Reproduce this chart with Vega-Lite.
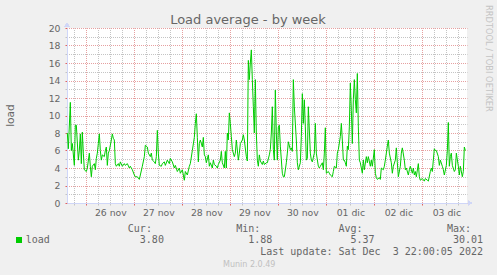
{
  "$schema": "https://vega.github.io/schema/vega-lite/v6.json",
  "width": 400,
  "height": 175,
  "autosize": "none",
  "padding": {"left": 67, "top": 28, "right": 30, "bottom": 72},
  "background": "#F0F0F0",
  "title": {"text": "RRDTOOL / TOBI OETIKER", "orient": "right", "anchor": "start", "frame": "group", "offset": -3, "dx": -23, "baseline": "middle", "font": "DejaVu Sans", "fontSize": 8.3, "fontWeight": "normal", "color": "#C4C4C4"},
  "config": {"view": {"fill": "#FFFFFF", "stroke": null}},
  "data": {"values": [
    {"t":"2022-11-25T14:30","v":8.0},{"t":"2022-11-25T15:00","v":6.2},{"t":"2022-11-25T16:00","v":11.5},{"t":"2022-11-25T16:30","v":6.0},{"t":"2022-11-25T17:00","v":6.8},{"t":"2022-11-25T18:00","v":4.3},{"t":"2022-11-25T18:30","v":8.9},{"t":"2022-11-25T19:00","v":8.9},{"t":"2022-11-25T20:00","v":4.9},{"t":"2022-11-25T20:30","v":6.0},{"t":"2022-11-25T21:00","v":7.9},{"t":"2022-11-25T21:30","v":4.5},{"t":"2022-11-25T22:00","v":8.1},{"t":"2022-11-25T22:30","v":5.7},{"t":"2022-11-25T23:00","v":3.8},
    {"t":"2022-11-26T00:00","v":3.6},{"t":"2022-11-26T00:30","v":4.0},{"t":"2022-11-26T01:30","v":5.7},{"t":"2022-11-26T02:00","v":4.2},{"t":"2022-11-26T02:30","v":3.0},{"t":"2022-11-26T03:00","v":4.2},{"t":"2022-11-26T04:00","v":4.5},{"t":"2022-11-26T04:30","v":3.8},{"t":"2022-11-26T05:00","v":5.1},{"t":"2022-11-26T05:30","v":5.7},{"t":"2022-11-26T06:00","v":6.8},{"t":"2022-11-26T06:30","v":7.9},{"t":"2022-11-26T07:00","v":6.0},{"t":"2022-11-26T07:30","v":4.9},{"t":"2022-11-26T08:00","v":5.5},{"t":"2022-11-26T09:00","v":5.3},{"t":"2022-11-26T09:30","v":6.0},{"t":"2022-11-26T10:00","v":6.4},{"t":"2022-11-26T10:30","v":4.3},{"t":"2022-11-26T11:00","v":5.7},{"t":"2022-11-26T11:30","v":6.0},{"t":"2022-11-26T12:30","v":7.2},{"t":"2022-11-26T13:00","v":7.9},{"t":"2022-11-26T13:30","v":7.4},{"t":"2022-11-26T14:00","v":7.2},{"t":"2022-11-26T14:30","v":4.5},{"t":"2022-11-26T15:00","v":4.2},{"t":"2022-11-26T16:00","v":4.5},{"t":"2022-11-26T16:30","v":4.2},{"t":"2022-11-26T17:00","v":4.7},{"t":"2022-11-26T18:00","v":4.2},{"t":"2022-11-26T19:00","v":4.5},{"t":"2022-11-26T19:30","v":4.3},{"t":"2022-11-26T20:30","v":4.5},{"t":"2022-11-26T21:30","v":4.0},{"t":"2022-11-26T22:00","v":4.2},{"t":"2022-11-26T23:00","v":3.8},
    {"t":"2022-11-27T00:00","v":3.2},{"t":"2022-11-27T00:30","v":3.0},{"t":"2022-11-27T01:30","v":3.0},{"t":"2022-11-27T02:30","v":2.7},{"t":"2022-11-27T03:00","v":3.2},{"t":"2022-11-27T04:00","v":4.2},{"t":"2022-11-27T05:00","v":5.3},{"t":"2022-11-27T05:30","v":6.6},{"t":"2022-11-27T06:30","v":6.4},{"t":"2022-11-27T07:00","v":5.7},{"t":"2022-11-27T08:00","v":5.3},{"t":"2022-11-27T08:30","v":5.7},{"t":"2022-11-27T09:00","v":4.9},{"t":"2022-11-27T10:00","v":4.7},{"t":"2022-11-27T10:30","v":4.5},{"t":"2022-11-27T11:00","v":5.3},{"t":"2022-11-27T11:30","v":8.3},{"t":"2022-11-27T12:00","v":5.7},{"t":"2022-11-27T12:30","v":4.3},{"t":"2022-11-27T13:30","v":4.2},{"t":"2022-11-27T14:00","v":4.5},{"t":"2022-11-27T15:00","v":4.7},{"t":"2022-11-27T15:30","v":4.3},{"t":"2022-11-27T16:30","v":4.9},{"t":"2022-11-27T17:30","v":4.5},{"t":"2022-11-27T18:00","v":5.1},{"t":"2022-11-27T19:00","v":4.7},{"t":"2022-11-27T20:00","v":4.0},{"t":"2022-11-27T20:30","v":4.3},{"t":"2022-11-27T21:30","v":3.6},{"t":"2022-11-27T22:30","v":4.0},{"t":"2022-11-27T23:00","v":3.4},
    {"t":"2022-11-28T00:00","v":3.8},{"t":"2022-11-28T01:00","v":2.6},{"t":"2022-11-28T01:30","v":3.6},{"t":"2022-11-28T02:30","v":3.2},{"t":"2022-11-28T03:30","v":4.2},{"t":"2022-11-28T04:00","v":4.5},{"t":"2022-11-28T05:00","v":6.0},{"t":"2022-11-28T06:00","v":7.5},{"t":"2022-11-28T06:30","v":9.1},{"t":"2022-11-28T07:00","v":10.2},{"t":"2022-11-28T07:30","v":7.5},{"t":"2022-11-28T08:00","v":4.7},{"t":"2022-11-28T08:30","v":6.8},{"t":"2022-11-28T09:00","v":7.2},{"t":"2022-11-28T10:00","v":6.4},{"t":"2022-11-28T10:30","v":7.5},{"t":"2022-11-28T11:00","v":5.5},{"t":"2022-11-28T11:30","v":5.3},{"t":"2022-11-28T12:00","v":4.6},{"t":"2022-11-28T13:00","v":5.5},{"t":"2022-11-28T13:30","v":4.2},{"t":"2022-11-28T14:00","v":4.6},{"t":"2022-11-28T15:00","v":4.0},{"t":"2022-11-28T15:30","v":4.9},{"t":"2022-11-28T16:00","v":4.4},{"t":"2022-11-28T17:00","v":4.2},{"t":"2022-11-28T17:30","v":4.0},{"t":"2022-11-28T18:00","v":4.4},{"t":"2022-11-28T19:00","v":4.9},{"t":"2022-11-28T19:30","v":5.9},{"t":"2022-11-28T20:00","v":4.6},{"t":"2022-11-28T21:00","v":4.0},{"t":"2022-11-28T21:30","v":5.9},{"t":"2022-11-28T22:00","v":4.0},{"t":"2022-11-28T22:30","v":8.0},{"t":"2022-11-28T23:00","v":7.2},{"t":"2022-11-28T23:30","v":10.3},
    {"t":"2022-11-29T00:00","v":9.1},{"t":"2022-11-29T00:30","v":7.6},{"t":"2022-11-29T01:00","v":6.1},{"t":"2022-11-29T02:00","v":5.3},{"t":"2022-11-29T02:30","v":5.7},{"t":"2022-11-29T03:00","v":7.2},{"t":"2022-11-29T04:00","v":4.9},{"t":"2022-11-29T04:30","v":5.7},{"t":"2022-11-29T05:00","v":6.8},{"t":"2022-11-29T06:00","v":7.2},{"t":"2022-11-29T06:30","v":7.8},{"t":"2022-11-29T07:00","v":7.2},{"t":"2022-11-29T08:00","v":5.3},{"t":"2022-11-29T08:30","v":4.8},{"t":"2022-11-29T09:00","v":16.3},{"t":"2022-11-29T09:30","v":14.1},{"t":"2022-11-29T10:00","v":16.0},{"t":"2022-11-29T10:30","v":17.5},{"t":"2022-11-29T11:00","v":14.1},{"t":"2022-11-29T11:30","v":11.0},{"t":"2022-11-29T12:00","v":8.0},{"t":"2022-11-29T12:30","v":14.1},{"t":"2022-11-29T13:00","v":8.0},{"t":"2022-11-29T13:30","v":4.9},{"t":"2022-11-29T14:00","v":4.2},{"t":"2022-11-29T14:30","v":5.5},{"t":"2022-11-29T15:00","v":4.8},{"t":"2022-11-29T16:00","v":4.4},{"t":"2022-11-29T16:30","v":4.8},{"t":"2022-11-29T17:00","v":4.4},{"t":"2022-11-29T18:00","v":4.6},{"t":"2022-11-29T18:30","v":4.6},{"t":"2022-11-29T19:30","v":5.5},{"t":"2022-11-29T20:00","v":6.1},{"t":"2022-11-29T20:30","v":8.0},{"t":"2022-11-29T21:00","v":11.0},{"t":"2022-11-29T21:30","v":6.1},{"t":"2022-11-29T22:00","v":4.9},{"t":"2022-11-29T22:30","v":12.9},{"t":"2022-11-29T23:00","v":8.0},{"t":"2022-11-29T23:30","v":4.9},
    {"t":"2022-11-30T00:00","v":8.7},{"t":"2022-11-30T00:30","v":8.9},{"t":"2022-11-30T01:00","v":6.5},{"t":"2022-11-30T02:00","v":3.4},{"t":"2022-11-30T02:30","v":3.0},{"t":"2022-11-30T03:00","v":3.0},{"t":"2022-11-30T04:00","v":4.6},{"t":"2022-11-30T04:30","v":5.7},{"t":"2022-11-30T05:00","v":7.0},{"t":"2022-11-30T06:00","v":6.1},{"t":"2022-11-30T06:30","v":6.3},{"t":"2022-11-30T07:00","v":5.9},{"t":"2022-11-30T07:30","v":14.1},{"t":"2022-11-30T08:00","v":11.0},{"t":"2022-11-30T09:00","v":7.2},{"t":"2022-11-30T09:30","v":4.6},{"t":"2022-11-30T10:00","v":3.8},{"t":"2022-11-30T11:00","v":4.6},{"t":"2022-11-30T11:30","v":7.6},{"t":"2022-11-30T12:00","v":12.5},{"t":"2022-11-30T12:30","v":9.1},{"t":"2022-11-30T13:00","v":11.8},{"t":"2022-11-30T13:30","v":8.7},{"t":"2022-11-30T14:00","v":4.9},{"t":"2022-11-30T14:30","v":5.1},{"t":"2022-11-30T15:00","v":11.0},{"t":"2022-11-30T16:00","v":5.7},{"t":"2022-11-30T16:30","v":4.9},{"t":"2022-11-30T17:00","v":4.7},{"t":"2022-11-30T18:00","v":5.7},{"t":"2022-11-30T18:30","v":9.1},{"t":"2022-11-30T19:00","v":5.7},{"t":"2022-11-30T20:00","v":4.2},{"t":"2022-11-30T20:30","v":4.0},{"t":"2022-11-30T21:00","v":4.2},{"t":"2022-11-30T22:00","v":4.6},{"t":"2022-11-30T22:30","v":3.8},{"t":"2022-11-30T23:00","v":5.7},{"t":"2022-11-30T23:30","v":8.6},
    {"t":"2022-12-01T00:00","v":3.4},{"t":"2022-12-01T01:00","v":3.6},{"t":"2022-12-01T01:30","v":3.4},{"t":"2022-12-01T02:00","v":3.2},{"t":"2022-12-01T03:00","v":3.0},{"t":"2022-12-01T03:30","v":3.6},{"t":"2022-12-01T04:00","v":4.2},{"t":"2022-12-01T05:00","v":4.0},{"t":"2022-12-01T05:30","v":5.7},{"t":"2022-12-01T06:00","v":6.1},{"t":"2022-12-01T07:00","v":7.6},{"t":"2022-12-01T07:30","v":9.1},{"t":"2022-12-01T08:00","v":7.2},{"t":"2022-12-01T08:30","v":4.9},{"t":"2022-12-01T09:00","v":4.9},{"t":"2022-12-01T09:30","v":4.6},{"t":"2022-12-01T10:00","v":4.2},{"t":"2022-12-01T10:30","v":6.5},{"t":"2022-12-01T11:00","v":6.1},{"t":"2022-12-01T11:30","v":8.7},{"t":"2022-12-01T12:00","v":13.7},{"t":"2022-12-01T12:30","v":10.6},{"t":"2022-12-01T13:00","v":6.8},{"t":"2022-12-01T13:30","v":11.8},{"t":"2022-12-01T14:00","v":14.1},{"t":"2022-12-01T14:30","v":11.8},{"t":"2022-12-01T15:00","v":10.3},{"t":"2022-12-01T15:30","v":14.8},{"t":"2022-12-01T16:00","v":8.7},{"t":"2022-12-01T16:30","v":4.9},{"t":"2022-12-01T17:00","v":4.6},{"t":"2022-12-01T18:00","v":3.4},{"t":"2022-12-01T18:30","v":4.9},{"t":"2022-12-01T19:00","v":3.8},{"t":"2022-12-01T20:00","v":5.3},{"t":"2022-12-01T20:30","v":4.6},{"t":"2022-12-01T21:00","v":5.3},{"t":"2022-12-01T22:00","v":4.2},{"t":"2022-12-01T22:30","v":4.9},{"t":"2022-12-01T23:00","v":4.2},
    {"t":"2022-12-02T00:00","v":6.1},{"t":"2022-12-02T00:30","v":3.4},{"t":"2022-12-02T01:00","v":2.9},{"t":"2022-12-02T01:30","v":2.7},{"t":"2022-12-02T02:30","v":2.9},{"t":"2022-12-02T03:00","v":2.7},{"t":"2022-12-02T03:30","v":4.0},{"t":"2022-12-02T04:30","v":3.8},{"t":"2022-12-02T05:00","v":4.2},{"t":"2022-12-02T05:30","v":4.9},{"t":"2022-12-02T06:30","v":6.5},{"t":"2022-12-02T07:00","v":7.2},{"t":"2022-12-02T07:30","v":5.7},{"t":"2022-12-02T08:30","v":4.6},{"t":"2022-12-02T09:00","v":3.4},{"t":"2022-12-02T09:30","v":4.2},{"t":"2022-12-02T10:30","v":4.9},{"t":"2022-12-02T11:00","v":6.3},{"t":"2022-12-02T11:30","v":4.6},{"t":"2022-12-02T12:00","v":3.0},{"t":"2022-12-02T13:00","v":4.2},{"t":"2022-12-02T13:30","v":5.7},{"t":"2022-12-02T14:00","v":6.3},{"t":"2022-12-02T15:00","v":4.9},{"t":"2022-12-02T15:30","v":3.8},{"t":"2022-12-02T16:00","v":4.0},{"t":"2022-12-02T17:00","v":3.2},{"t":"2022-12-02T17:30","v":3.8},{"t":"2022-12-02T18:00","v":4.2},{"t":"2022-12-02T19:00","v":3.4},{"t":"2022-12-02T19:30","v":4.0},{"t":"2022-12-02T20:00","v":3.2},{"t":"2022-12-02T20:30","v":3.6},{"t":"2022-12-02T21:00","v":3.0},{"t":"2022-12-02T22:00","v":4.5},{"t":"2022-12-02T22:30","v":3.0},{"t":"2022-12-02T23:00","v":2.6},
    {"t":"2022-12-03T00:00","v":2.8},{"t":"2022-12-03T01:00","v":2.5},{"t":"2022-12-03T01:30","v":2.8},{"t":"2022-12-03T02:30","v":2.6},{"t":"2022-12-03T03:00","v":2.5},{"t":"2022-12-03T04:00","v":3.6},{"t":"2022-12-03T04:30","v":4.0},{"t":"2022-12-03T05:00","v":3.6},{"t":"2022-12-03T06:00","v":6.2},{"t":"2022-12-03T06:30","v":6.0},{"t":"2022-12-03T07:00","v":6.0},{"t":"2022-12-03T08:00","v":5.3},{"t":"2022-12-03T08:30","v":4.3},{"t":"2022-12-03T09:00","v":4.9},{"t":"2022-12-03T10:00","v":4.2},{"t":"2022-12-03T10:30","v":3.8},{"t":"2022-12-03T11:00","v":3.2},{"t":"2022-12-03T12:00","v":4.3},{"t":"2022-12-03T12:30","v":6.0},{"t":"2022-12-03T13:00","v":9.2},{"t":"2022-12-03T13:30","v":4.2},{"t":"2022-12-03T14:00","v":5.3},{"t":"2022-12-03T14:30","v":5.7},{"t":"2022-12-03T15:00","v":4.3},{"t":"2022-12-03T16:00","v":3.6},{"t":"2022-12-03T16:30","v":3.8},{"t":"2022-12-03T17:00","v":5.7},{"t":"2022-12-03T18:00","v":4.2},{"t":"2022-12-03T18:30","v":3.2},{"t":"2022-12-03T19:00","v":4.2},{"t":"2022-12-03T20:00","v":3.0},{"t":"2022-12-03T20:30","v":3.6},{"t":"2022-12-03T21:00","v":6.4},{"t":"2022-12-03T21:30","v":6.0}
  ]},
  "layer": [
    {
      "mark": {"type": "line", "strokeWidth": 1},
      "encoding": {
        "x": {
          "field": "t", "type": "temporal",
          "scale": {"domain": [{"year": 2022, "month": 11, "date": 25, "hours": 14, "minutes": 20}, {"year": 2022, "month": 12, "date": 3, "hours": 22, "minutes": 20}]},
          "axis": {
            "orient": "bottom",
            "values": [
              {"year": 2022, "month": 11, "date": 25, "hours": 18},
              {"year": 2022, "month": 11, "date": 26, "hours": 0}, {"year": 2022, "month": 11, "date": 26, "hours": 6}, {"year": 2022, "month": 11, "date": 26, "hours": 12}, {"year": 2022, "month": 11, "date": 26, "hours": 18},
              {"year": 2022, "month": 11, "date": 27, "hours": 0}, {"year": 2022, "month": 11, "date": 27, "hours": 6}, {"year": 2022, "month": 11, "date": 27, "hours": 12}, {"year": 2022, "month": 11, "date": 27, "hours": 18},
              {"year": 2022, "month": 11, "date": 28, "hours": 0}, {"year": 2022, "month": 11, "date": 28, "hours": 6}, {"year": 2022, "month": 11, "date": 28, "hours": 12}, {"year": 2022, "month": 11, "date": 28, "hours": 18},
              {"year": 2022, "month": 11, "date": 29, "hours": 0}, {"year": 2022, "month": 11, "date": 29, "hours": 6}, {"year": 2022, "month": 11, "date": 29, "hours": 12}, {"year": 2022, "month": 11, "date": 29, "hours": 18},
              {"year": 2022, "month": 11, "date": 30, "hours": 0}, {"year": 2022, "month": 11, "date": 30, "hours": 6}, {"year": 2022, "month": 11, "date": 30, "hours": 12}, {"year": 2022, "month": 11, "date": 30, "hours": 18},
              {"year": 2022, "month": 12, "date": 1, "hours": 0}, {"year": 2022, "month": 12, "date": 1, "hours": 6}, {"year": 2022, "month": 12, "date": 1, "hours": 12}, {"year": 2022, "month": 12, "date": 1, "hours": 18},
              {"year": 2022, "month": 12, "date": 2, "hours": 0}, {"year": 2022, "month": 12, "date": 2, "hours": 6}, {"year": 2022, "month": 12, "date": 2, "hours": 12}, {"year": 2022, "month": 12, "date": 2, "hours": 18},
              {"year": 2022, "month": 12, "date": 3, "hours": 0}, {"year": 2022, "month": 12, "date": 3, "hours": 6}, {"year": 2022, "month": 12, "date": 3, "hours": 12}, {"year": 2022, "month": 12, "date": 3, "hours": 18}
            ],
            "labelExpr": "hours(datum.value) == 12 ? timeFormat(datum.value, '%d') + ' ' + (month(datum.value) == 10 ? 'nov' : 'dic') : ''",
            "labelOverlap": false, "labelFlush": false, "labelBound": false,
            "labelFont": "DejaVu Sans", "labelFontSize": 9.3, "labelColor": "#666666", "labelPadding": 3,
            "grid": true, "gridDash": [1, 1], "gridDashOffset": 0.5, "gridWidth": 1,
            "gridColor": {"condition": {"test": "hours(datum.value) == 0", "value": "#E6A0A0"}, "value": "#C4C4C4"},
            "ticks": true, "tickSize": 2,
            "tickColor": {"condition": {"test": "hours(datum.value) == 0", "value": "#E06060"}, "value": "#C4C4C4"},
            "domain": true, "domainColor": "#CFD6F8", "domainWidth": 1,
            "title": [
              "3.80\u00a0\u00a0\u00a0\u00a0\u00a0\u00a0\u00a0\u00a0\u00a0\u00a0\u00a0\u00a0\u00a0\u00a01.88\u00a0\u00a0\u00a0\u00a0\u00a0\u00a0\u00a0\u00a0\u00a0\u00a0\u00a0\u00a0\u00a05.37\u00a0\u00a0\u00a0\u00a0\u00a0\u00a0\u00a0\u00a0\u00a0\u00a0\u00a0\u00a0\u00a030.01",
              "Last update: Sat Dec\u00a0\u00a03 22:00:05 2022"
            ],
            "titleFont": "DejaVu Sans Mono", "titleFontSize": 10, "titleFontWeight": "normal", "titleColor": "#666666",
            "titleX": 415.5, "titleY": 39.8, "titleAlign": "right", "titleBaseline": "alphabetic", "titleLineHeight": 12.1, "titleAngle": 0
          }
        },
        "y": {
          "field": "v", "type": "quantitative",
          "scale": {"domain": [0, 20], "nice": false, "zero": true},
          "axis": {
            "orient": "left",
            "values": [0,1,2,3,4,5,6,7,8,9,10,11,12,13,14,15,16,17,18,19,20],
            "labelExpr": "datum.value % 2 == 0 ? datum.label : ''",
            "labelOverlap": false, "labelFlush": false, "labelBound": false,
            "labelFont": "DejaVu Sans", "labelFontSize": 9.3, "labelColor": "#666666", "labelPadding": 5,
            "grid": true, "gridDash": [1, 1], "gridDashOffset": 0.5, "gridWidth": 1,
            "gridColor": {"condition": {"test": "datum.value % 2 == 0", "value": "#E6A0A0"}, "value": "#C4C4C4"},
            "ticks": true, "tickSize": 2,
            "tickColor": {"condition": {"test": "datum.value % 2 == 0", "value": "#E06060"}, "value": "#C4C4C4"},
            "domain": true, "domainColor": "#CFD6F8", "domainWidth": 1,
            "title": "load", "titleFont": "DejaVu Sans", "titleFontSize": 10.6, "titleFontWeight": "normal", "titleColor": "#666666",
            "titleX": -56.2, "titleY": 87, "titleAngle": 270, "titleAlign": "center", "titleBaseline": "middle"
          }
        },
        "color": {
          "datum": "load", "type": "nominal",
          "scale": {"range": ["#00CC00"]},
          "legend": {
            "orient": "none", "legendX": -53, "legendY": 207, "title": null, "padding": 0,
            "labelFont": "DejaVu Sans Mono", "labelFontSize": 10, "labelColor": "#666666", "labelOffset": 1.7,
            "symbolType": "square", "symbolSize": 36, "symbolFillColor": "#00CC00", "symbolStrokeColor": "#00CC00", "symbolStrokeWidth": 0
          }
        }
      }
    },
    {
      "mark": {"type": "line", "opacity": 0},
      "encoding": {
        "x": {
          "field": "t", "type": "temporal",
          "axis": {
            "orient": "top", "labels": false, "ticks": false, "domain": false, "grid": false,
            "title": "Load average - by week", "titleFont": "DejaVu Sans", "titleFontSize": 13, "titleFontWeight": "normal", "titleColor": "#666666",
            "titleX": 180.5, "titleY": -4.5, "titleAlign": "center", "titleBaseline": "alphabetic", "titleAngle": 0
          }
        },
        "y": {
          "field": "v", "type": "quantitative",
          "axis": {
            "orient": "right", "labels": false, "ticks": false, "domain": false, "grid": false,
            "title": "Munin 2.0.49", "titleFont": "DejaVu Sans", "titleFontSize": 8, "titleFontWeight": "normal", "titleColor": "#C0C0C0",
            "titleX": -218.3, "titleY": 238.4, "titleAlign": "center", "titleBaseline": "alphabetic", "titleAngle": 0
          }
        }
      }
    },
    {
      "mark": {"type": "point", "shape": "triangle-right", "filled": true, "size": 22, "color": "#CFD6F8", "opacity": 1, "xOffset": 3},
      "encoding": {
        "x": {"datum": {"year": 2022, "month": 12, "date": 3, "hours": 22, "minutes": 20}, "type": "temporal", "axis": null},
        "y": {"datum": 0, "type": "quantitative", "axis": null}
      }
    },
    {
      "mark": {"type": "point", "shape": "triangle-up", "filled": true, "size": 22, "color": "#CFD6F8", "opacity": 1, "yOffset": -3},
      "encoding": {
        "x": {"datum": {"year": 2022, "month": 11, "date": 25, "hours": 14, "minutes": 20}, "type": "temporal", "axis": null},
        "y": {
          "datum": 20, "type": "quantitative",
          "axis": {
            "orient": "left", "labels": false, "ticks": false, "domain": false, "grid": false,
            "title": "Cur:\u00a0\u00a0\u00a0\u00a0\u00a0\u00a0\u00a0\u00a0\u00a0\u00a0\u00a0\u00a0\u00a0\u00a0Min:\u00a0\u00a0\u00a0\u00a0\u00a0\u00a0\u00a0\u00a0\u00a0\u00a0\u00a0\u00a0\u00a0Avg:\u00a0\u00a0\u00a0\u00a0\u00a0\u00a0\u00a0\u00a0\u00a0\u00a0\u00a0\u00a0\u00a0\u00a0Max:",
            "titleFont": "DejaVu Sans Mono", "titleFontSize": 10, "titleFontWeight": "normal", "titleColor": "#666666",
            "titleX": 403.5, "titleY": 203, "titleAlign": "right", "titleBaseline": "alphabetic", "titleAngle": 0
          }
        }
      }
    }
  ],
  "resolve": {"axis": {"x": "independent", "y": "independent"}}
}
